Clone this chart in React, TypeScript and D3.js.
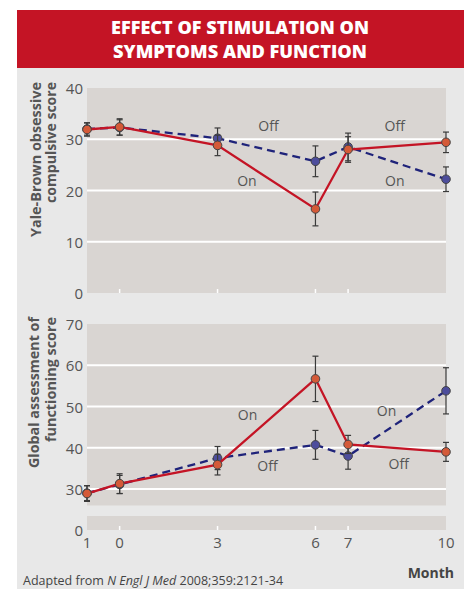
import React from "react";
import * as d3 from "d3";

// months after implantation (first one is baseline, shown as "1")
const months = [-1, 0, 3, 6, 7, 10];
const monthLabels = ["1", "0", "3", "6", "7", "10"];

// Yale-Brown obsessive compulsive score
const ybocsOn = [31.9, 32.4, 28.8, 16.4, 28.0, 29.4];
const ybocsOnErr = [1.3, 1.6, 2.0, 3.3, 2.5, 2.0];
const ybocsOff = [32.0, 32.3, 30.2, 25.7, 28.5, 22.2];
const ybocsOffErr = [1.2, 1.5, 2.0, 3.0, 2.7, 2.4];
const ybocsTicks = [0, 10, 20, 30, 40];

// Global assessment of functioning score
const gafOn = [28.9, 31.3, 35.9, 56.7, 40.8, 39.0];
const gafOnErr = [1.9, 2.4, 2.5, 5.5, 2.2, 2.3];
const gafOff = [29.0, 31.1, 37.5, 40.7, 38.0, 53.8];
const gafOffErr = [1.8, 2.2, 2.8, 3.5, 3.2, 5.6];
const gafTicks = [30, 40, 50, 60, 70];

// on/off annotations [label, month, value]
const ybocsNotes: [string, number, number][] = [
  ["Off", 4.56, 32.6], ["Off", 8.43, 32.6], ["On", 3.9, 21.9], ["On", 8.43, 21.9],
];
const gafNotes: [string, number, number][] = [
  ["On", 3.92, 48.0], ["Off", 4.53, 35.6], ["On", 8.18, 49.0], ["Off", 8.55, 36.1],
];

const W = 464, H = 589;
const RED = "#c41425";
const NAVY = "#1f237a";
const PANEL = "#e8e8e8";
const PLOT = "#d9d5d2";
const TXT = "#555";
const FONT = "'Open Sans', 'Noto Sans', sans-serif";

const x = d3.scaleLinear().domain([-1, 10]).range([87, 446]);
const yTop = d3.scaleLinear().domain([0, 40]).range([293, 88]);
const yBot = d3.scaleLinear().domain([30, 70]).range([489, 324]);
const BOT_MIN = 26; // axis break
const zeroBand = { top: 516, bottom: 530 };

type Y = d3.ScaleLinear<number, number>;

function Series({ vals, errs, y, color, dash, fill }: { vals: number[]; errs: number[]; y: Y; color: string; dash?: string; fill: string }) {
  const line = d3.line<number>().x((_, i) => x(months[i])).y((d) => y(d));
  return (
    <g>
      <path d={line(vals) || ""} fill="none" stroke={color} strokeWidth={2.3} strokeDasharray={dash} />
      {vals.map((v, i) => {
        const cx = x(months[i]);
        const y1 = y(v + errs[i]), y2 = y(v - errs[i]);
        return (
          <g key={i} stroke="#3a3a3a" strokeWidth={1.2}>
            <line x1={cx} x2={cx} y1={y1} y2={y2} />
            <line x1={cx - 3} x2={cx + 3} y1={y1} y2={y1} />
            <line x1={cx - 3} x2={cx + 3} y1={y2} y2={y2} />
          </g>
        );
      })}
      {vals.map((v, i) => (
        <circle key={"c" + i} cx={x(months[i])} cy={y(v)} r={4.3} fill={fill} stroke="#444" strokeWidth={1} />
      ))}
    </g>
  );
}

// rotated two-line title, lines end-aligned at the top
function YTitle({ lines, top, xs, lens }: { lines: string[]; top: number; xs: number[]; lens: number[] }) {
  return (
    <g>
      {lines.map((t, i) => (
        <text key={i} transform={`translate(${xs[i]},${top}) rotate(-90)`} textAnchor="end"
          dominantBaseline="central" fontFamily={FONT} fontWeight={700} fontSize={14} fill={TXT}
          textLength={lens[i]} lengthAdjust="spacingAndGlyphs">{t}</text>
      ))}
    </g>
  );
}

export default function App() {
  const x0 = x.range()[0], x1 = x.range()[1];
  const inner = months.filter((m) => m > -1 && m < 10);
  const tickLab = { fontFamily: FONT, fontSize: 15, fill: TXT };
  const noteLab = { fontFamily: FONT, fontSize: 14, fill: TXT };
  return (
    <svg width={W} height={H} style={{ position: "absolute", left: 0, top: 0, display: "block" }}>
      <rect x={17} y={10} width={W - 17} height={58} fill={RED} />
      <rect x={17} y={68} width={W - 17} height={H - 68} fill={PANEL} />
      <text x={240} y={34} textAnchor="middle" fill="#fff" fontFamily={FONT} fontWeight={800} fontSize={18}
        textLength={258} lengthAdjust="spacingAndGlyphs">EFFECT OF STIMULATION ON</text>
      <text x={240} y={57.5} textAnchor="middle" fill="#fff" fontFamily={FONT} fontWeight={800} fontSize={18}
        textLength={254} lengthAdjust="spacingAndGlyphs">SYMPTOMS AND FUNCTION</text>

      {/* top panel */}
      <rect x={x0} y={yTop(40)} width={x1 - x0} height={yTop(0) - yTop(40)} fill={PLOT} />
      {ybocsTicks.map((t) => (
        <g key={t}>
          {t > 0 && t < 40 && <line x1={x0} x2={x1} y1={yTop(t)} y2={yTop(t)} stroke="#fff" strokeWidth={2} />}
          <text x={83} y={yTop(t)} textAnchor="end" dominantBaseline="central" {...tickLab}>{t}</text>
        </g>
      ))}
      {inner.map((m) => (
        <line key={m} x1={x(m)} x2={x(m)} y1={yTop(0) - 4} y2={yTop(0)} stroke="#fff" strokeWidth={1.5} />
      ))}
      <YTitle lines={["Yale-Brown obsessive", "compulsive score"]} top={82} xs={[35, 50]} lens={[155, 121]} />
      <Series vals={ybocsOff} errs={ybocsOffErr} y={yTop} color={NAVY} dash="8,5" fill="#4d4d9c" />
      <Series vals={ybocsOn} errs={ybocsOnErr} y={yTop} color={RED} fill="#d45a38" />
      {ybocsNotes.map(([t, m, v], i) => (
        <text key={i} x={x(m)} y={yTop(v)} textAnchor="middle" dominantBaseline="central" {...noteLab}>{t}</text>
      ))}

      {/* bottom panel */}
      <rect x={x0} y={yBot(70)} width={x1 - x0} height={yBot(BOT_MIN) - yBot(70)} fill={PLOT} />
      <rect x={x0} y={zeroBand.top} width={x1 - x0} height={zeroBand.bottom - zeroBand.top} fill={PLOT} />
      {gafTicks.map((t) => (
        <g key={t}>
          {t < 70 && <line x1={x0} x2={x1} y1={yBot(t)} y2={yBot(t)} stroke="#fff" strokeWidth={2} />}
          <text x={83} y={yBot(t)} textAnchor="end" dominantBaseline="central" {...tickLab}>{t}</text>
        </g>
      ))}
      <text x={83} y={zeroBand.bottom} textAnchor="end" dominantBaseline="central" {...tickLab}>0</text>
      {inner.map((m) => (
        <line key={m} x1={x(m)} x2={x(m)} y1={zeroBand.bottom - 4} y2={zeroBand.bottom} stroke="#fff" strokeWidth={1.5} />
      ))}
      <YTitle lines={["Global assessment of", "functioning score"]} top={317} xs={[33, 50]} lens={[151, 125]} />
      <Series vals={gafOff} errs={gafOffErr} y={yBot} color={NAVY} dash="8,5" fill="#4d4d9c" />
      <Series vals={gafOn} errs={gafOnErr} y={yBot} color={RED} fill="#d45a38" />
      {gafNotes.map(([t, m, v], i) => (
        <text key={i} x={x(m)} y={yBot(v)} textAnchor="middle" dominantBaseline="central" {...noteLab}>{t}</text>
      ))}

      {/* x axis labels */}
      {months.map((m, i) => (
        <text key={m} x={x(m)} y={542} textAnchor="middle" dominantBaseline="central" {...tickLab}>{monthLabels[i]}</text>
      ))}
      <text x={454} y={578} textAnchor="end" fontFamily={FONT} fontWeight={700} fontSize={14} fill="#444">Month</text>
      <text x={23} y={585} fontFamily={FONT} fontSize={12.5} fill="#444">
        Adapted from <tspan fontStyle="italic">N Engl J Med</tspan> 2008;359:2121-34
      </text>
    </svg>
  );
}
